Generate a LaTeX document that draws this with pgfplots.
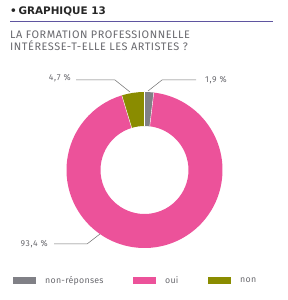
\documentclass[border=0pt]{standalone}
\usepackage{pgfplots}
\pgfplotsset{compat=1.18}
\usepackage{pgfplotstable}
\usepackage{fontspec}
\setmainfont{Fira Sans}
\newfontfamily\headfont{DejaVu Sans}
\newfontfamily\spacedfont[LetterSpace=5]{Fira Sans}
\newfontfamily\labfont[LetterSpace=8]{Fira Sans}
\newfontfamily\legfont[LetterSpace=3]{Fira Sans}
\definecolor{cgray}{RGB}{128,128,134}
\definecolor{cpink}{RGB}{236,82,154}
\definecolor{colive}{RGB}{138,140,0}
\definecolor{ctext}{RGB}{105,105,110}
\definecolor{crule}{RGB}{95,85,160}
\definecolor{cline}{RGB}{110,110,110}
% values (percent), clockwise from 12 o'clock
\pgfplotstableread{
label value
nonreponses 1.9
oui 93.4
non 4.7
}\piedata
\pgfplotstablegetelem{0}{value}\of\piedata \let\va\pgfplotsretval
\pgfplotstablegetelem{1}{value}\of\piedata \let\vb\pgfplotsretval
\pgfplotstablegetelem{2}{value}\of\piedata \let\vc\pgfplotsretval
\pgfmathsetmacro{\aA}{90}
\pgfmathsetmacro{\aB}{90-3.6*\va}
\pgfmathsetmacro{\aC}{\aB-3.6*\vb}
\pgfmathsetmacro{\aD}{\aC-3.6*\vc}
\begin{document}
\begin{tikzpicture}
\begin{axis}[
  scale only axis, width=287pt, height=300pt,
  xmin=0, xmax=287, ymin=0, ymax=300,
  hide axis, clip=false,
]
\path (axis cs:0,0) rectangle (axis cs:287,300);
\def\cx{144.5}\def\cy{130}\def\Ro{78}\def\Ri{44}
\fill[cgray] (axis cs:\cx,\cy) ++(\aA:\Ro pt) arc[start angle=\aA, end angle=\aB, radius=\Ro pt] -- ++(\aB+180:\Ro pt-\Ri pt) arc[start angle=\aB, end angle=\aA, radius=\Ri pt] -- cycle;
\fill[cpink] (axis cs:\cx,\cy) ++(\aB:\Ro pt) arc[start angle=\aB, end angle=\aC, radius=\Ro pt] -- ++(\aC+180:\Ro pt-\Ri pt) arc[start angle=\aC, end angle=\aB, radius=\Ri pt] -- cycle;
\fill[colive] (axis cs:\cx,\cy) ++(\aC:\Ro pt) arc[start angle=\aC, end angle=\aD, radius=\Ro pt] -- ++(\aD+180:\Ro pt-\Ri pt) arc[start angle=\aD, end angle=\aC, radius=\Ri pt] -- cycle;
\draw[white, line width=0.4pt] (axis cs:\cx,\cy) ++(\aA:\Ri pt) -- ++(\aA:\Ro pt-\Ri pt);
\draw[white, line width=0.4pt] (axis cs:\cx,\cy) ++(\aB:\Ri pt) -- ++(\aB:\Ro pt-\Ri pt);
\draw[white, line width=0.4pt] (axis cs:\cx,\cy) ++(\aC:\Ri pt) -- ++(\aC:\Ro pt-\Ri pt);
% leader lines
\draw[cline, line width=0.5pt] (axis cs:148,209) -- (axis cs:162,220) -- (axis cs:196,220);
\draw[cline, line width=0.5pt] (axis cs:130,208) -- (axis cs:115,220) -- (axis cs:76,220);
\draw[cline, line width=0.5pt] (axis cs:100,66) -- (axis cs:87,56) -- (axis cs:54,56);
% value labels
\node[ctext, font=\labfont\fontsize{8.6}{10}\selectfont, anchor=west, inner sep=0pt] at (axis cs:205,219.5) {1,9 \%};
\node[ctext, font=\labfont\fontsize{8.6}{10}\selectfont, anchor=east, inner sep=0pt] at (axis cs:71,222) {4,7 \%};
\node[ctext, font=\labfont\fontsize{8.6}{10}\selectfont, anchor=east, inner sep=0pt] at (axis cs:48,56) {93,4 \%};
% title
\node[black!85, font=\headfont\fontsize{10.4}{12}\selectfont\bfseries, anchor=base west, inner sep=0pt] at (axis cs:10,285) {\textbullet\,GRAPHIQUE 13};
\draw[crule, line width=0.8pt] (axis cs:10,279) -- (axis cs:273,279);
\node[ctext, font=\spacedfont\fontsize{10.9}{12}\selectfont, anchor=base west, inner sep=0pt] at (axis cs:10,261) {LA FORMATION PROFESSIONNELLE};
\node[ctext, font=\spacedfont\fontsize{10.9}{12}\selectfont, anchor=base west, inner sep=0pt] at (axis cs:10,249.5) {INTÉRESSE-T-ELLE LES ARTISTES ?};
% legend
\fill[cgray] (axis cs:13,16) rectangle (axis cs:36,23);
\fill[cpink] (axis cs:133,16) rectangle (axis cs:156,23);
\fill[colive] (axis cs:208,16) rectangle (axis cs:231,23);
\node[ctext, font=\legfont\fontsize{8.8}{10}\selectfont, anchor=west, inner sep=0pt] at (axis cs:45,19.5) {non-réponses};
\node[ctext, font=\legfont\fontsize{8.8}{10}\selectfont, anchor=west, inner sep=0pt] at (axis cs:165,19.5) {oui};
\node[ctext, font=\legfont\fontsize{8.8}{10}\selectfont, anchor=west, inner sep=0pt] at (axis cs:240,19.5) {non};
\end{axis}
\end{tikzpicture}
\end{document}
